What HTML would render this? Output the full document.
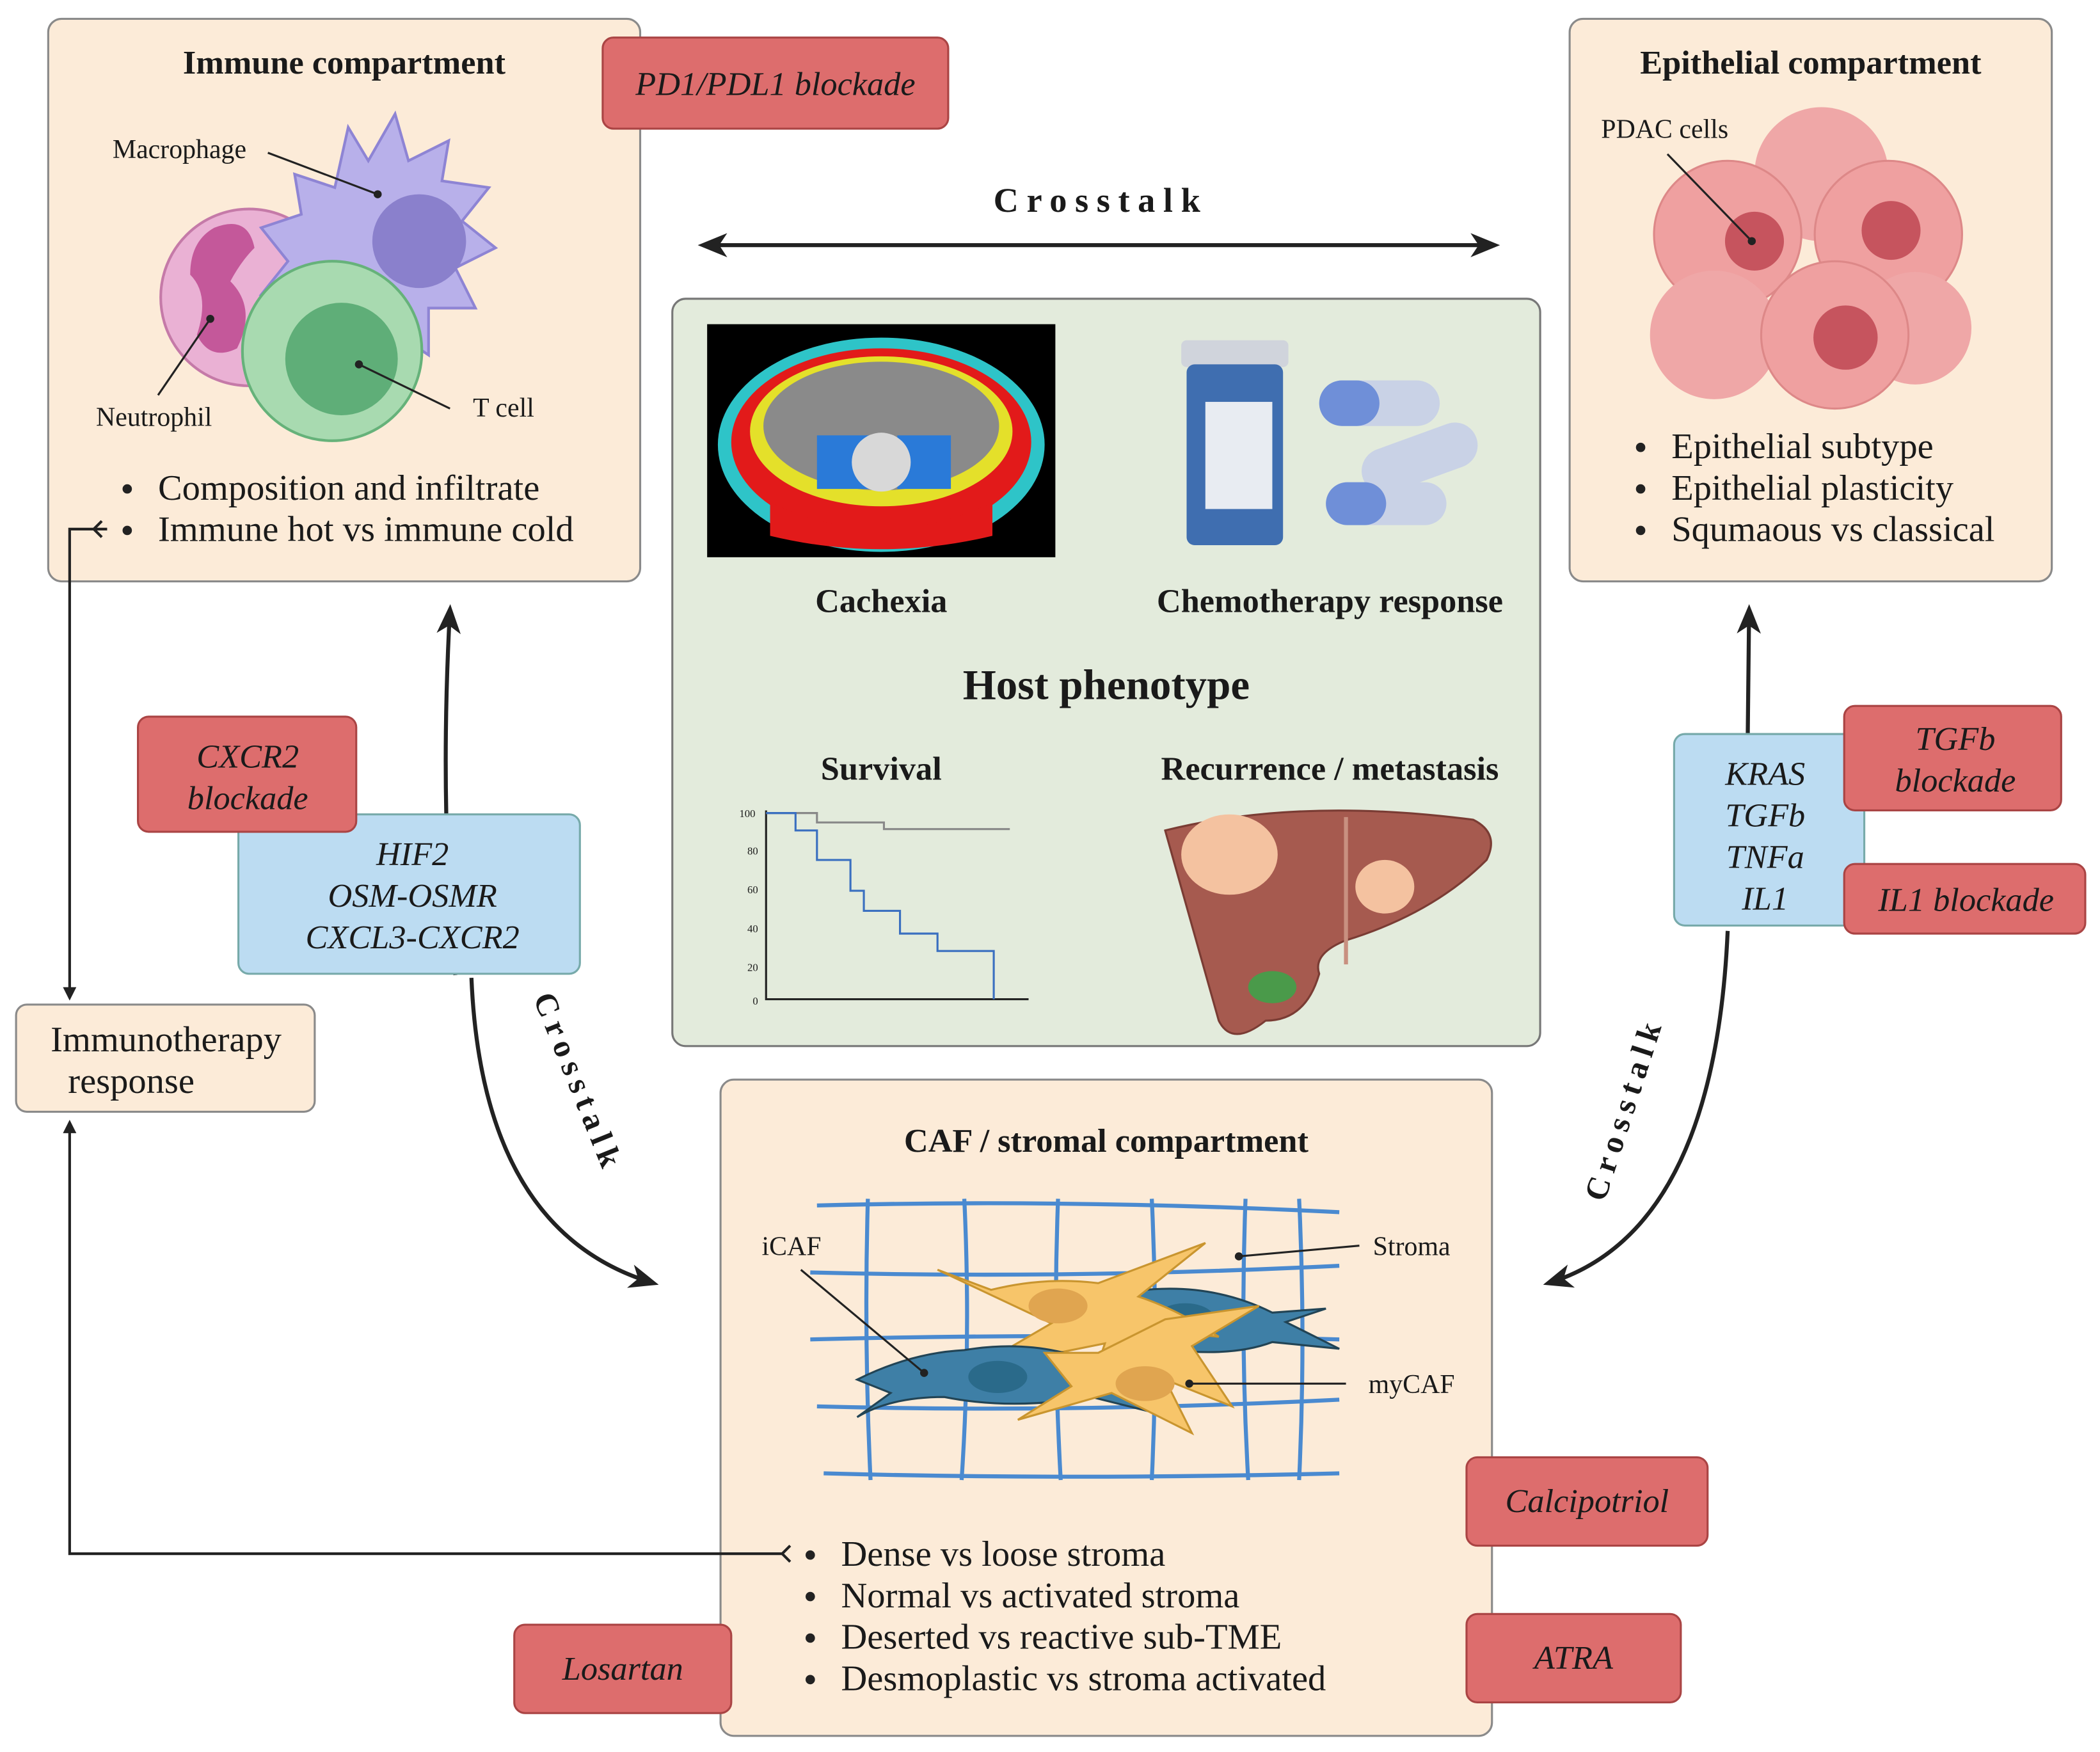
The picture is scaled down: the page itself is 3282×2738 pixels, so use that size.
<!DOCTYPE html>
<html><head><meta charset="utf-8"><style>
html,body{margin:0;padding:0;background:#fff;}
svg{display:block;}
text{font-family:"Liberation Serif",serif;fill:#1a1a1a;}
.t{font-weight:bold;font-size:25px;}
.b{font-size:27px;}
.it{font-style:italic;font-size:25px;}
.lb{font-size:20px;}
</style></head><body>
<svg width="3282" height="2738" viewBox="0 0 1568 1308" xmlns="http://www.w3.org/2000/svg">
<defs>
<marker id="ah" markerWidth="10" markerHeight="10" refX="8" refY="5" orient="auto" markerUnits="userSpaceOnUse"><path d="M0,0 L10,5 L0,10 Z" fill="#222"/></marker>
<marker id="ahb" markerWidth="22" markerHeight="18" refX="18" refY="9" orient="auto" markerUnits="userSpaceOnUse"><path d="M0,0 L22,9 L0,18 L6,9 Z" fill="#222"/></marker>
<marker id="ahs" markerWidth="22" markerHeight="18" refX="4" refY="9" orient="auto" markerUnits="userSpaceOnUse"><path d="M22,0 L0,9 L22,18 L16,9 Z" fill="#222"/></marker>
</defs>

<!-- Immune compartment -->
<rect x="36" y="14" width="442" height="420" rx="10" fill="#fcebd8" stroke="#8a8a8a" stroke-width="1.5"/>
<text x="257" y="55" text-anchor="middle" class="t">Immune compartment</text>
<circle cx="186" cy="222" r="66" fill="#eab1d4" stroke="#c57aa8" stroke-width="2"/>
<path d="M160,170 q25,-10 30,15 q-10,10 -18,25 q20,20 5,50 q-20,10 -30,-10 q10,-30 -5,-45 q0,-25 18,-35z" fill="#c4589a"/>
<path d="M260,95 l15,25 l20,-35 l10,35 l30,-15 l-5,30 l35,5 l-20,25 l25,20 l-30,15 l15,30 l-35,0 l0,35 l-30,-20 l-20,30 l-15,-30 l-30,15 l0,-35 l-30,-5 l20,-25 l-20,-25 l30,-10 l-5,-30 l30,10 z" fill="#b8b0ea" stroke="#8e84d4" stroke-width="2"/>
<circle cx="313" cy="180" r="35" fill="#8a80cc"/>
<circle cx="248" cy="262" r="67" fill="#a8dab0" stroke="#66b27a" stroke-width="2"/>
<circle cx="255" cy="268" r="42" fill="#5fae78"/>
<line x1="200" y1="114" x2="282" y2="145" stroke="#222" stroke-width="1.5"/><circle cx="282" cy="145" r="3" fill="#222"/>
<line x1="118" y1="295" x2="157" y2="238" stroke="#222" stroke-width="1.5"/><circle cx="157" cy="238" r="3" fill="#222"/>
<line x1="336" y1="305" x2="268" y2="272" stroke="#222" stroke-width="1.5"/><circle cx="268" cy="272" r="3" fill="#222"/>
<text x="134" y="118" text-anchor="middle" class="lb">Macrophage</text>
<text x="115" y="318" text-anchor="middle" class="lb">Neutrophil</text>
<text x="376" y="311" text-anchor="middle" class="lb">T cell</text>
<circle cx="95" cy="365" r="3.5" fill="#222"/><text x="118" y="373" class="b">Composition and infiltrate</text>
<circle cx="95" cy="396" r="3.5" fill="#222"/><text x="118" y="404" class="b">Immune hot vs immune cold</text>

<!-- PD1 -->
<rect x="450" y="28" width="258" height="68" rx="8" fill="#dd6d6d" stroke="#a44" stroke-width="1.5"/>
<text x="579" y="71" text-anchor="middle" class="it">PD1/PDL1 blockade</text>

<!-- Top crosstalk -->
<text x="822" y="158" text-anchor="middle" style="font-weight:bold;font-size:26px;letter-spacing:6px">Crosstalk</text>
<line x1="525" y1="183" x2="1116" y2="183" stroke="#222" stroke-width="3" marker-end="url(#ahb)" marker-start="url(#ahs)"/>

<!-- Host phenotype -->
<rect x="502" y="223" width="648" height="558" rx="10" fill="#e3ebdc" stroke="#777" stroke-width="1.5"/>
<rect x="528" y="242" width="260" height="174" fill="#000"/>
<ellipse cx="658" cy="332" rx="122" ry="80" fill="#2ec4c8"/>
<ellipse cx="658" cy="330" rx="112" ry="70" fill="#e21a1a"/>
<ellipse cx="658" cy="322" rx="98" ry="56" fill="#e4e02a"/>
<ellipse cx="658" cy="318" rx="88" ry="48" fill="#8a8a8a"/>
<rect x="610" y="325" width="40" height="40" fill="#2a7ad8"/><rect x="670" y="325" width="40" height="40" fill="#2a7ad8"/>
<circle cx="658" cy="345" r="22" fill="#d8d8d8"/>
<path d="M575,375 q83,40 166,0 l0,25 q-83,20 -166,0z" fill="#e21a1a"/>
<rect x="882" y="254" width="80" height="20" rx="4" fill="#d0d4dc"/>
<rect x="886" y="272" width="72" height="135" rx="6" fill="#3f6eb0"/>
<rect x="900" y="300" width="50" height="80" fill="#e8ecf2"/>
<rect x="985" y="284" width="90" height="34" rx="17" fill="#c9d2e6"/><rect x="985" y="284" width="45" height="34" rx="17" fill="#6f8fd8"/>
<rect x="1015" y="325" width="90" height="34" rx="17" fill="#c9d2e6" transform="rotate(-20 1060 342)"/>
<rect x="990" y="360" width="90" height="32" rx="16" fill="#c9d2e6"/><rect x="990" y="360" width="45" height="32" rx="16" fill="#6f8fd8"/>
<text x="658" y="457" text-anchor="middle" class="t">Cachexia</text>
<text x="993" y="457" text-anchor="middle" class="t">Chemotherapy response</text>
<text x="826" y="522" text-anchor="middle" style="font-weight:bold;font-size:32px">Host phenotype</text>
<text x="658" y="582" text-anchor="middle" class="t">Survival</text>
<text x="993" y="582" text-anchor="middle" class="t">Recurrence / metastasis</text>
<path d="M572,605 L572,746 L768,746" fill="none" stroke="#222" stroke-width="1.5"/>
<path d="M572,607 L610,607 L610,614 L660,614 L660,619 L754,619" fill="none" stroke="#888" stroke-width="1.5"/>
<path d="M572,607 L594,607 L594,620 L610,620 L610,642 L635,642 L635,665 L645,665 L645,680 L672,680 L672,697 L700,697 L700,710 L742,710 L742,746" fill="none" stroke="#3a6fc0" stroke-width="1.5"/>
<g font-size="8" fill="#444"><text x="552" y="610">100</text><text x="558" y="638">80</text><text x="558" y="667">60</text><text x="558" y="696">40</text><text x="558" y="725">20</text><text x="562" y="750">0</text></g>
<path d="M870,620 q100,-25 230,-8 q20,10 10,30 q-40,40 -105,60 q-25,10 -20,25 q-10,35 -40,35 q-25,20 -35,0 q-20,-70 -40,-142z" fill="#a65a4f" stroke="#7a3c34" stroke-width="1.5"/>
<ellipse cx="950" cy="737" rx="18" ry="12" fill="#4a9a4a"/>
<ellipse cx="918" cy="638" rx="36" ry="30" fill="#f4c2a0"/>
<ellipse cx="1034" cy="662" rx="22" ry="20" fill="#f4c2a0"/>
<line x1="1005" y1="610" x2="1005" y2="720" stroke="#c89080" stroke-width="3"/>

<!-- Epithelial -->
<rect x="1172" y="14" width="360" height="420" rx="10" fill="#fcebd8" stroke="#8a8a8a" stroke-width="1.5"/>
<text x="1352" y="55" text-anchor="middle" class="t">Epithelial compartment</text>
<circle cx="1360" cy="130" r="50" fill="#efa7a7"/>
<circle cx="1290" cy="175" r="55" fill="#efa0a0" stroke="#d88" stroke-width="1.5"/>
<circle cx="1410" cy="175" r="55" fill="#efa0a0" stroke="#d88" stroke-width="1.5"/>
<circle cx="1280" cy="250" r="48" fill="#efa7a7"/>
<circle cx="1430" cy="245" r="42" fill="#efa7a7"/>
<circle cx="1370" cy="250" r="55" fill="#efa0a0" stroke="#d88" stroke-width="1.5"/>
<circle cx="1310" cy="180" r="22" fill="#c6545e"/><circle cx="1412" cy="172" r="22" fill="#c6545e"/><circle cx="1378" cy="252" r="24" fill="#c6545e"/>
<line x1="1245" y1="115" x2="1308" y2="180" stroke="#222" stroke-width="1.5"/><circle cx="1308" cy="180" r="3" fill="#222"/>
<text x="1243" y="103" text-anchor="middle" class="lb">PDAC cells</text>
<circle cx="1225" cy="334" r="3.5" fill="#222"/><text x="1248" y="342" class="b">Epithelial subtype</text>
<circle cx="1225" cy="365" r="3.5" fill="#222"/><text x="1248" y="373" class="b">Epithelial plasticity</text>
<circle cx="1225" cy="396" r="3.5" fill="#222"/><text x="1248" y="404" class="b">Squmaous vs classical</text>

<!-- CAF -->
<rect x="538" y="806" width="576" height="490" rx="10" fill="#fcebd8" stroke="#8a8a8a" stroke-width="1.5"/>
<text x="826" y="860" text-anchor="middle" class="t">CAF / stromal compartment</text>
<g stroke="#4a8ad0" stroke-width="3" fill="none">
<path d="M610,900 Q800,895 1000,905"/><path d="M605,950 Q800,955 1000,945"/><path d="M605,1000 Q800,995 1000,1000"/><path d="M610,1050 Q800,1055 1000,1045"/><path d="M615,1100 Q800,1105 1000,1100"/>
<path d="M648,895 Q645,1000 650,1105"/><path d="M720,895 Q725,1000 718,1105"/><path d="M790,895 Q786,1000 792,1105"/><path d="M860,895 Q865,1000 860,1105"/><path d="M930,895 Q926,1000 932,1105"/><path d="M970,895 Q975,1000 970,1105"/>
</g>
<path d="M840,965 q60,-10 110,15 l40,-3 l-30,10 l40,20 l-50,-5 q-40,15 -110,0z" fill="#3e7fa6" stroke="#245" stroke-width="1.5"/>
<ellipse cx="885" cy="985" rx="22" ry="12" fill="#2a6a8a"/>
<path d="M700,948 l40,15 q40,-10 80,-5 l80,-30 l-50,40 q30,10 60,30 l-50,-5 l-45,40 l10,-30 q-50,10 -100,20 l60,-35 z" fill="#f7c56a" stroke="#c9952f" stroke-width="1.5"/>
<ellipse cx="790" cy="975" rx="22" ry="13" fill="#e0a550"/>
<path d="M640,1030 q40,-20 80,-22 q60,-10 110,15 l30,-5 l-25,15 l20,20 l-40,-10 q-60,10 -110,0 q-40,0 -65,15 l25,-18z" fill="#3e7fa6" stroke="#245" stroke-width="1.5"/>
<ellipse cx="745" cy="1028" rx="22" ry="12" fill="#2a6a8a"/>
<path d="M780,1010 l40,0 l50,-25 l70,-10 l-50,30 l30,45 l-50,-20 l20,40 l-60,-30 l-70,20 l40,-25z" fill="#f7c56a" stroke="#c9952f" stroke-width="1.5"/>
<ellipse cx="855" cy="1033" rx="22" ry="13" fill="#e0a550"/>
<line x1="598" y1="948" x2="690" y2="1025" stroke="#222" stroke-width="1.5"/><circle cx="690" cy="1025" r="3" fill="#222"/>
<line x1="1015" y1="930" x2="925" y2="938" stroke="#222" stroke-width="1.5"/><circle cx="925" cy="938" r="3" fill="#222"/>
<line x1="1005" y1="1033" x2="888" y2="1033" stroke="#222" stroke-width="1.5"/><circle cx="888" cy="1033" r="3" fill="#222"/>
<text x="591" y="937" text-anchor="middle" class="lb">iCAF</text>
<text x="1054" y="937" text-anchor="middle" class="lb">Stroma</text>
<text x="1054" y="1040" text-anchor="middle" class="lb">myCAF</text>
<circle cx="605" cy="1161" r="3.5" fill="#222"/><text x="628" y="1169" class="b">Dense vs loose stroma</text>
<circle cx="605" cy="1192" r="3.5" fill="#222"/><text x="628" y="1200" class="b">Normal vs activated stroma</text>
<circle cx="605" cy="1223" r="3.5" fill="#222"/><text x="628" y="1231" class="b">Deserted vs reactive sub-TME</text>
<circle cx="605" cy="1254" r="3.5" fill="#222"/><text x="628" y="1262" class="b">Desmoplastic vs stroma activated</text>

<!-- Left connectors -->
<path d="M340,728 Q328,600 336,455" fill="none" stroke="#222" stroke-width="3" marker-end="url(#ahb)"/>
<path d="M352,730 Q360,920 488,958" fill="none" stroke="#222" stroke-width="3" marker-end="url(#ahb)"/>
<text transform="translate(398,745) rotate(68)" style="font-weight:bold;font-size:24px;letter-spacing:5px">Crosstalk</text>
<rect x="178" y="608" width="255" height="119" rx="8" fill="#bcdcf2" stroke="#7aa" stroke-width="1.5"/>
<text x="308" y="646" text-anchor="middle" class="it">HIF2</text>
<text x="308" y="677" text-anchor="middle" class="it">OSM-OSMR</text>
<text x="308" y="708" text-anchor="middle" class="it">CXCL3-CXCR2</text>
<rect x="103" y="535" width="163" height="86" rx="8" fill="#dd6d6d" stroke="#a44" stroke-width="1.5"/>
<text x="185" y="573" text-anchor="middle" class="it">CXCR2</text>
<text x="185" y="604" text-anchor="middle" class="it">blockade</text>

<rect x="12" y="750" width="223" height="80" rx="8" fill="#fcebd8" stroke="#8a8a8a" stroke-width="1.5"/>
<text x="124" y="785" text-anchor="middle" class="b">Immunotherapy</text>
<text x="98" y="816" text-anchor="middle" class="b">response</text>
<path d="M80,395 L52,395 L52,745" fill="none" stroke="#222" stroke-width="2" marker-end="url(#ah)"/>
<path d="M76,389 L70,395 L76,401" fill="none" stroke="#222" stroke-width="2"/>
<path d="M585,1160 L52,1160 L52,838" fill="none" stroke="#222" stroke-width="2" marker-end="url(#ah)"/>
<path d="M590,1154 L584,1160 L590,1166" fill="none" stroke="#222" stroke-width="2"/>

<!-- Right connectors -->
<path d="M1305,548 L1306,455" fill="none" stroke="#222" stroke-width="3" marker-end="url(#ahb)"/>
<path d="M1290,695 Q1280,920 1156,958" fill="none" stroke="#222" stroke-width="3" marker-end="url(#ahb)"/>
<text transform="translate(1198,898) rotate(-72)" style="font-weight:bold;font-size:24px;letter-spacing:5px">Crosstalk</text>
<rect x="1250" y="548" width="142" height="143" rx="8" fill="#bcdcf2" stroke="#7aa" stroke-width="1.5"/>
<text x="1318" y="586" text-anchor="middle" class="it">KRAS</text>
<text x="1318" y="617" text-anchor="middle" class="it">TGFb</text>
<text x="1318" y="648" text-anchor="middle" class="it">TNFa</text>
<text x="1318" y="679" text-anchor="middle" class="it">IL1</text>
<rect x="1377" y="527" width="162" height="78" rx="8" fill="#dd6d6d" stroke="#a44" stroke-width="1.5"/>
<text x="1460" y="560" text-anchor="middle" class="it">TGFb</text>
<text x="1460" y="591" text-anchor="middle" class="it">blockade</text>
<rect x="1377" y="645" width="180" height="52" rx="8" fill="#dd6d6d" stroke="#a44" stroke-width="1.5"/>
<text x="1468" y="680" text-anchor="middle" class="it">IL1 blockade</text>

<rect x="1095" y="1088" width="180" height="66" rx="8" fill="#dd6d6d" stroke="#a44" stroke-width="1.5"/>
<text x="1185" y="1129" text-anchor="middle" class="it">Calcipotriol</text>
<rect x="1095" y="1205" width="160" height="66" rx="8" fill="#dd6d6d" stroke="#a44" stroke-width="1.5"/>
<text x="1175" y="1246" text-anchor="middle" class="it">ATRA</text>
<rect x="384" y="1213" width="162" height="66" rx="8" fill="#dd6d6d" stroke="#a44" stroke-width="1.5"/>
<text x="465" y="1254" text-anchor="middle" class="it">Losartan</text>
</svg>
</body></html>
